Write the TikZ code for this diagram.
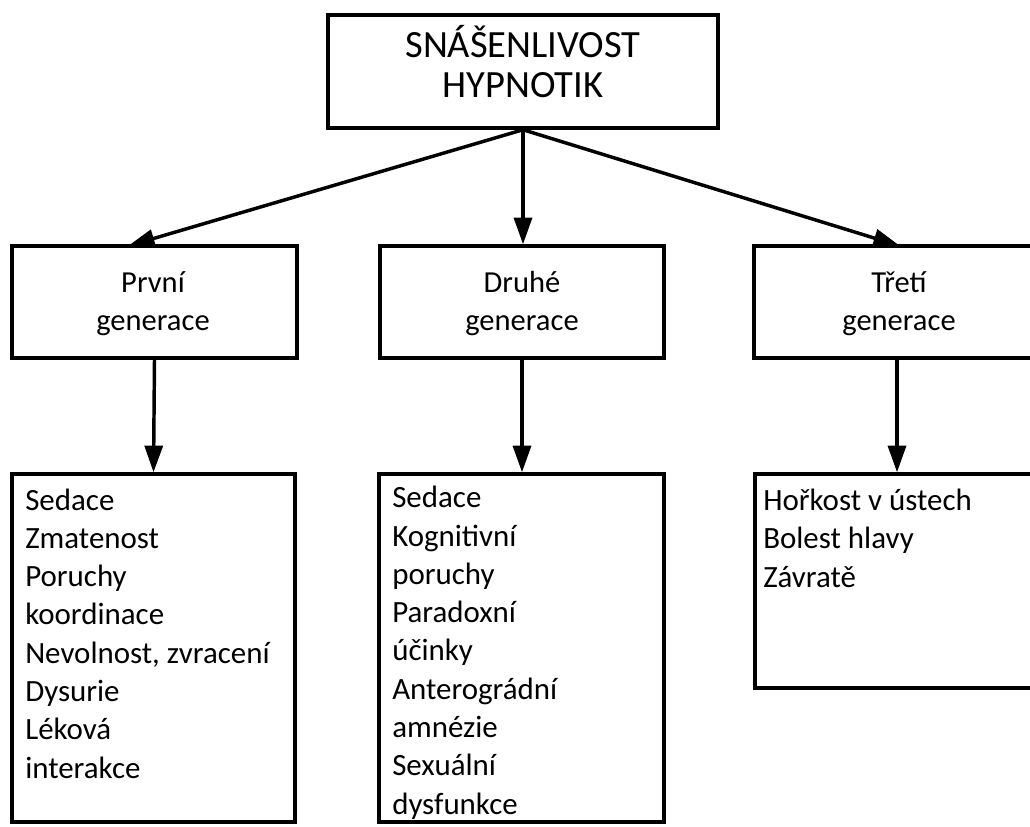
\documentclass[tikz,border=0pt]{standalone}
\usepackage{fontspec}
\setmainfont{Carlito}
\usetikzlibrary{arrows.meta,fit}
\begin{document}
\begin{tikzpicture}[x=0.75pt,y=-0.75pt,
  box/.style={draw,line width=2.6pt,inner sep=0pt,rectangle},
  arr/.style={line width=2.6pt,-{Triangle[length=20pt,width=13.5pt]}},
  topfont/.style={font=\fontsize{28.9pt}{30pt}\selectfont},
  midfont/.style={font=\fontsize{22.9pt}{28.5pt}\selectfont},
  listfont/.style={font=\fontsize{23.2pt}{28.7pt}\selectfont},
  txt/.style={inner sep=0pt,align=left}]
\clip (0,0) rectangle (1030,826);
\fill[white] (0,0) rectangle (1030,826);
% boxes
\node[box,fit={(328,15)(718,128)}] (top) {};
\node[box,fit={(12,246)(297,358)}] (b1) {};
\node[box,fit={(380,246)(664,358)}] (b2) {};
\node[box,fit={(754,246)(1045,358)}] (b3) {};
\node[box,fit={(12,474)(295,822)}] (c1) {};
\node[box,fit={(379,474)(664,822)}] (c2) {};
\node[box,fit={(755,474)(1045,688)}] (c3) {};
% texts
\node[topfont,inner sep=0pt,anchor=base] (tt1) at (523,57) {SNÁŠENLIVOST};
\node[topfont,inner sep=0pt,anchor=base] (tt2) at (523,97) {HYPNOTIK};
\node[midfont,inner sep=0pt,anchor=base] (m1a) at (153,292) {První};
\node[midfont,inner sep=0pt,anchor=base] (m1b) at (153,330) {generace};
\node[midfont,inner sep=0pt,anchor=base] (m2a) at (522,292) {Druhé};
\node[midfont,inner sep=0pt,anchor=base] (m2b) at (522,330) {generace};
\node[midfont,inner sep=0pt,anchor=base] (m3a) at (899,292) {Třetí};
\node[midfont,inner sep=0pt,anchor=base] (m3b) at (899,330) {generace};
% multi-line nodes: base anchor is the last line's baseline
\node[listfont,txt,anchor=base west] (l1) at (25,778) {Sedace\\Zmatenost\\Poruchy\\koordinace\\Nevolnost, zvracení\\Dysurie\\Léková\\interakce};
\node[listfont,txt,anchor=base west] (l2) at (392,814) {Sedace\\Kognitivní\\poruchy\\Paradoxní\\účinky\\Anterográdní\\amnézie\\Sexuální\\dysfunkce};
\node[listfont,txt,anchor=base west] (l3) at (763,587) {Hořkost v ústech\\Bolest hlavy\\Závratě};
% connectors
\coordinate (t1) at (128,246);
\coordinate (t3) at (900,246);
\coordinate (x3) at (897,0);
\draw[arr] (top.south) -- (t1);
\draw[arr] (top.south) -- (top.south |- b2.north);
\draw[arr] (top.south) -- (t3);
\draw[arr] (b1.south) -- (c1.north);
\draw[arr] (b2.south) -- (b2.south |- c2.north);
\draw[arr] (b3.south -| x3) -- (c3.north -| x3);
\end{tikzpicture}
\end{document}
